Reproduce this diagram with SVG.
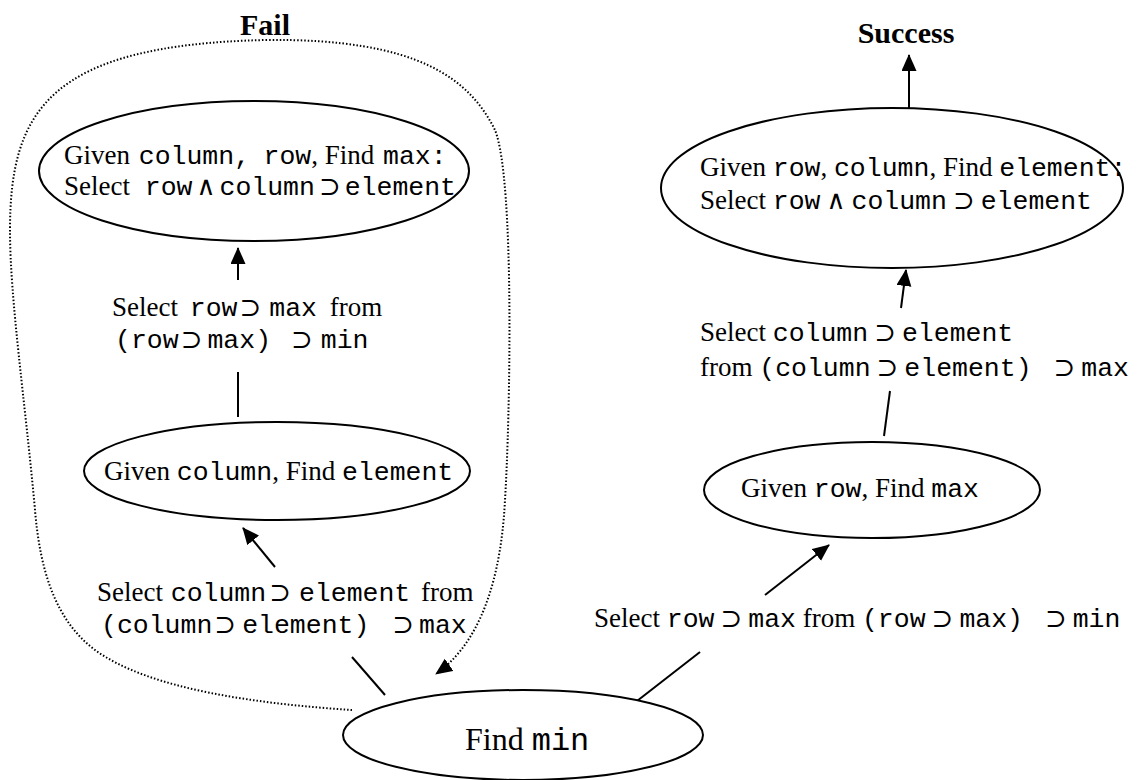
<svg xmlns="http://www.w3.org/2000/svg" width="1142" height="780" viewBox="0 0 1142 780">
<style>
text{font-family:"Liberation Serif","Times New Roman",serif;font-size:27px;fill:#000;white-space:pre}
.m{font-family:"Liberation Mono","Courier New",monospace;font-size:26.5px}
.s{font-family:"DejaVu Serif","Liberation Serif",serif;font-size:26px}
.h{font-weight:bold;font-size:30px}
.big{font-size:32px}
.big .m{font-size:32px}
ellipse{fill:#fff;stroke:#000;stroke-width:2}
.c{stroke:#000;stroke-width:2;fill:none}
.d{stroke:#000;stroke-width:2;fill:none;stroke-dasharray:1.5 2}
</style>
<defs>
<marker id="ah" markerUnits="userSpaceOnUse" markerWidth="18" markerHeight="16" refX="16" refY="7.5" orient="auto">
<path d="M0,0 L17,7.5 L0,15 z" fill="#000"/>
</marker>
</defs>
<g id="labels">
<text class="h" x="265" y="35" text-anchor="middle">Fail</text>
<text class="h" x="906" y="43" text-anchor="middle">Success</text>
</g>
<g id="connectors">
<path class="d" d="M352,710 C260,704 150,690 95,650 C55,620 40,570 35,510 C25,400 10,300 10,230 C10,110 50,45 265,40 C420,38 470,80 495,130 C515,180 510,420 505,500 C500,600 470,650 436,674" marker-end="url(#ah)"/>
<line class="c" x1="238" y1="280" x2="238" y2="248" marker-end="url(#ah)"/>
<line class="c" x1="238" y1="372" x2="238" y2="417"/>
<line class="c" x1="275" y1="567" x2="243" y2="528" marker-end="url(#ah)"/>
<line class="c" x1="352" y1="657" x2="385" y2="695"/>
<line class="c" x1="637" y1="701" x2="700" y2="652"/>
<line class="c" x1="765" y1="595" x2="829" y2="545" marker-end="url(#ah)"/>
<line class="c" x1="884" y1="436" x2="890" y2="391"/>
<line class="c" x1="901" y1="308" x2="906" y2="270" marker-end="url(#ah)"/>
<line class="c" x1="909" y1="126" x2="909" y2="55" marker-end="url(#ah)"/>
</g>
<g id="node-a">
<ellipse cx="254" cy="171" rx="215" ry="70"/>
<text x="64" y="164">Given <tspan class="m" dx="2">column,</tspan>  <tspan class="m">row</tspan>, Find <tspan class="m" dx="2">max:</tspan></text>
<text x="64" y="195">Select <tspan class="m" dx="8">row</tspan><tspan class="s" dx="4">∧</tspan><tspan class="m" dx="4">column</tspan><tspan class="s" dx="4">⊃</tspan><tspan class="m" dx="4">element</tspan></text>
</g>
<g id="edge-label-1">
<text x="112" y="316">Select <tspan class="m" dx="5">row</tspan><tspan class="s" dx="2">⊃</tspan><tspan class="m" dx="8">max</tspan><tspan dx="6"> from</tspan></text>
<text x="115" y="348"><tspan class="m">(row</tspan><tspan class="s" dx="2">⊃</tspan><tspan class="m" dx="5">max) </tspan><tspan class="s" dx="4">⊃</tspan><tspan class="m" dx="8">min</tspan></text>
</g>
<g id="node-b">
<ellipse cx="277" cy="471" rx="193" ry="49"/>
<text x="104" y="480">Given <tspan class="m">column</tspan>, Find <tspan class="m">element</tspan></text>
</g>
<g id="edge-label-2">
<text x="97" y="601">Select <tspan class="m" dx="1">column</tspan><tspan class="s" dx="3">⊃</tspan><tspan class="m" dx="8">element</tspan><tspan dx="4"> from</tspan></text>
<text x="101" y="633"><tspan class="m">(column</tspan><tspan class="s" dx="2">⊃</tspan><tspan class="m" dx="6">element) </tspan><tspan class="s" dx="7">⊃</tspan><tspan class="m" dx="5">max</tspan></text>
</g>
<g id="node-min">
<ellipse cx="523" cy="735" rx="180" ry="45"/>
<text class="big" x="465" y="750">Find <tspan class="m">min</tspan></text>
</g>
<g id="edge-label-3">
<text x="594" y="627">Select <tspan class="m">row</tspan><tspan class="s" dx="6">⊃</tspan><tspan class="m" dx="6">max</tspan> from <tspan class="m">(row</tspan><tspan class="s" dx="6">⊃</tspan><tspan class="m" dx="6">max) </tspan><tspan class="s" dx="6">⊃</tspan><tspan class="m" dx="6">min</tspan></text>
</g>
<g id="node-d">
<ellipse cx="872" cy="490" rx="168" ry="48"/>
<text x="741" y="497">Given <tspan class="m">row</tspan>, Find <tspan class="m">max</tspan></text>
</g>
<g id="edge-label-4">
<text x="700" y="341">Select <tspan class="m">column</tspan><tspan class="s" dx="6">⊃</tspan><tspan class="m" dx="6">element</tspan></text>
<text x="700" y="376">from <tspan class="m">(column</tspan><tspan class="s" dx="6">⊃</tspan><tspan class="m" dx="6">element) </tspan><tspan class="s" dx="6">⊃</tspan><tspan class="m" dx="6">max</tspan></text>
</g>
<g id="node-c">
<ellipse cx="892" cy="188" rx="231" ry="80"/>
<text x="700" y="176">Given <tspan class="m">row</tspan>, <tspan class="m">column</tspan>, Find <tspan class="m">element:</tspan></text>
<text x="700" y="209">Select <tspan class="m">row</tspan><tspan class="s" dx="6">∧</tspan><tspan class="m" dx="6">column</tspan><tspan class="s" dx="6">⊃</tspan><tspan class="m" dx="6">element</tspan></text>
</g>
</svg>
